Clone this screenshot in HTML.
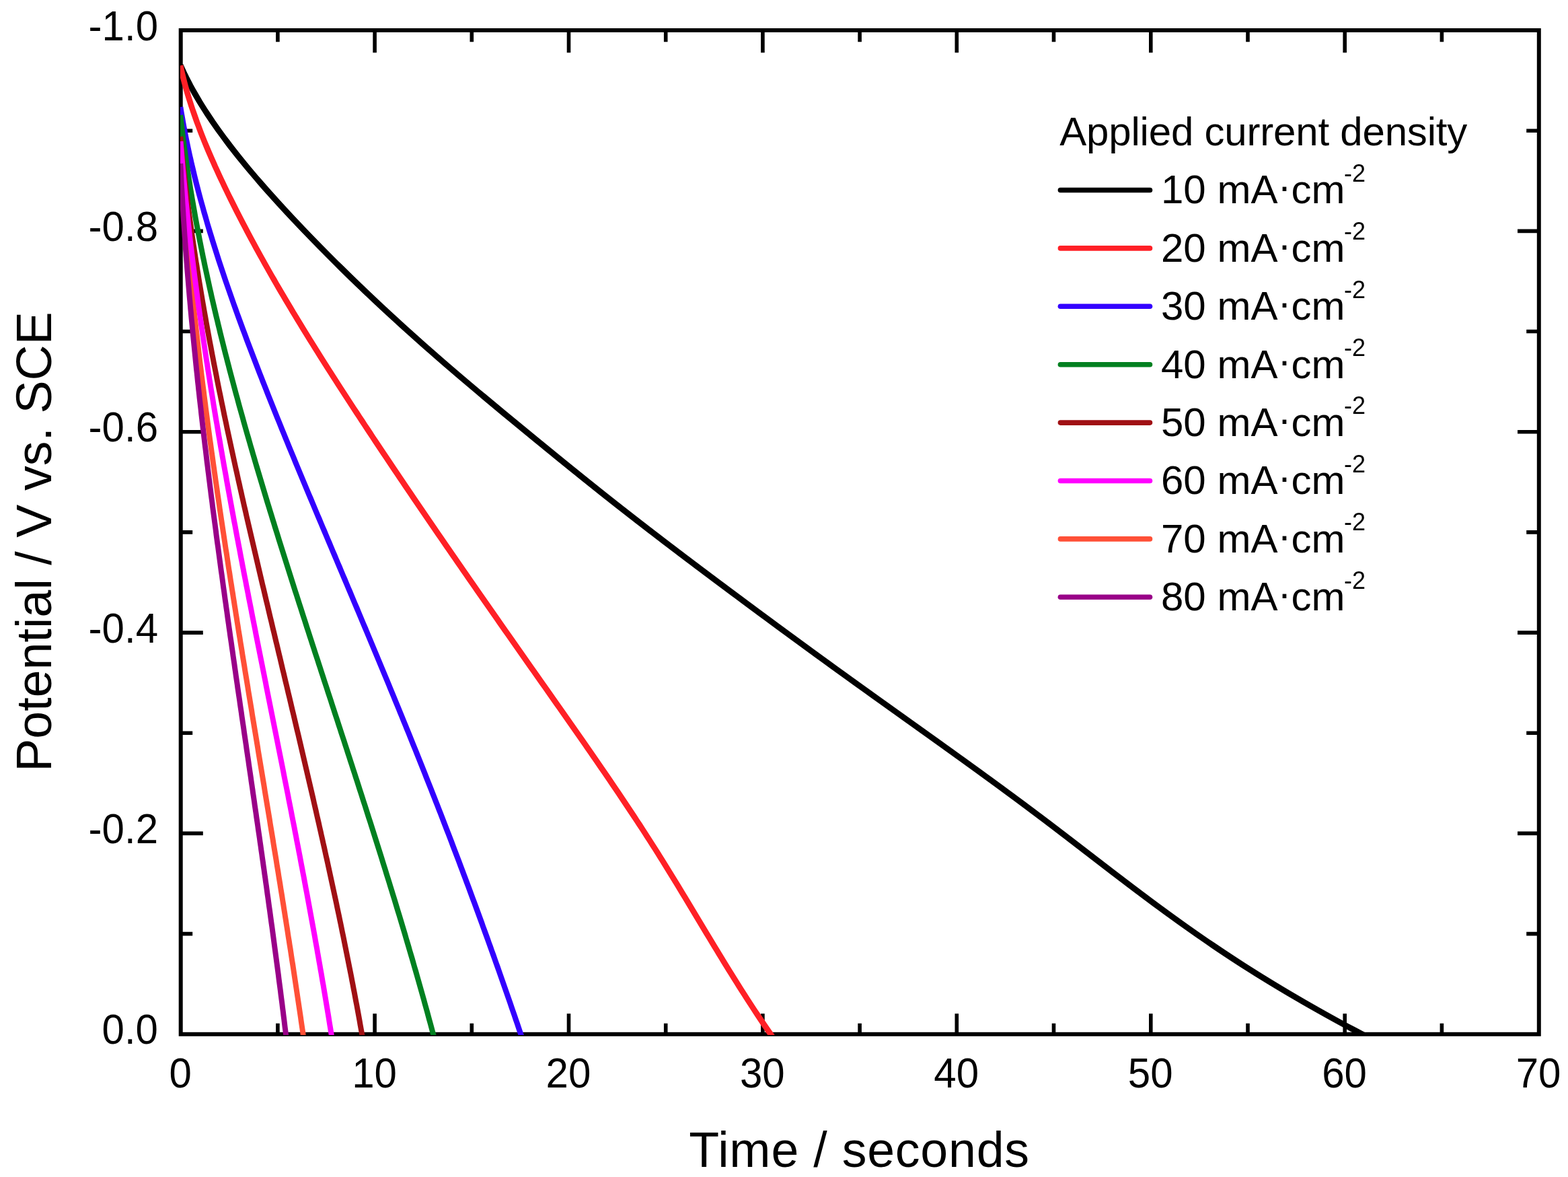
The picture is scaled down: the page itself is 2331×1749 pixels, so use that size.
<!DOCTYPE html>
<html lang="en">
<head>
<meta charset="utf-8">
<title>Galvanostatic discharge curves</title>
<style>
html,body{margin:0;padding:0;background:#ffffff;}
body{width:2331px;height:1749px;overflow:hidden;}
svg{display:block;filter:blur(0.7px);}
text{font-family:"Liberation Sans", sans-serif;fill:#000;}
.tk{font-size:60px;}
.tt{font-size:73.5px;}
.sup{font-size:36px;}
</style>
</head>
<body>
<svg width="2331" height="1749" viewBox="0 0 2331 1749">
<rect x="0" y="0" width="2331" height="1749" fill="#ffffff"/>
<defs><clipPath id="plot"><rect x="268.0" y="45.0" width="2019.8" height="1493.0"/></clipPath></defs>
<path d="M412.9 1536.8V1520.8M412.9 45.0V62.3M557.1 1536.8V1506.3M557.1 45.0V78.3M701.3 1536.8V1520.8M701.3 45.0V62.3M845.5 1536.8V1506.3M845.5 45.0V78.3M989.7 1536.8V1520.8M989.7 45.0V62.3M1133.9 1536.8V1506.3M1133.9 45.0V78.3M1278.1 1536.8V1520.8M1278.1 45.0V62.3M1422.3 1536.8V1506.3M1422.3 45.0V78.3M1566.5 1536.8V1520.8M1566.5 45.0V62.3M1710.8 1536.8V1506.3M1710.8 45.0V78.3M1855.0 1536.8V1520.8M1855.0 45.0V62.3M1999.2 1536.8V1506.3M1999.2 45.0V78.3M2143.4 1536.8V1520.8M2143.4 45.0V62.3M268.7 1387.6H286.2M2287.8 1387.6H2269.2M268.7 1238.4H301.8M2287.8 1238.4H2256.0M268.7 1089.3H286.2M2287.8 1089.3H2269.2M268.7 940.1H301.8M2287.8 940.1H2256.0M268.7 790.9H286.2M2287.8 790.9H2269.2M268.7 641.7H301.8M2287.8 641.7H2256.0M268.7 492.5H286.2M2287.8 492.5H2269.2M268.7 343.4H301.8M2287.8 343.4H2256.0M268.7 194.2H286.2M2287.8 194.2H2269.2" stroke="#000" stroke-width="5.6" fill="none"/>
<rect x="268.7" y="45.0" width="2019.1" height="1491.8" fill="none" stroke="#000" stroke-width="6.0"/>
<g clip-path="url(#plot)" fill="none" stroke-linejoin="round">
<path d="M268.3 97.0 L271.0 103.0 L273.8 109.0 L276.7 115.0 L279.8 121.0 L282.9 127.0 L286.2 133.0 L289.6 139.0 L293.1 145.0 L296.6 151.0 L300.3 157.0 L304.1 163.0 L308.0 169.0 L312.0 175.0 L316.0 181.0 L320.2 187.0 L324.4 193.0 L328.8 199.0 L333.2 205.0 L337.7 211.0 L342.2 217.0 L346.9 223.0 L351.6 229.0 L356.4 235.0 L361.3 241.0 L366.2 247.0 L371.2 253.0 L376.3 259.0 L381.4 265.0 L386.6 271.0 L391.8 277.0 L397.1 283.0 L402.5 289.0 L407.9 295.0 L413.3 301.0 L418.8 307.0 L424.3 313.0 L429.9 319.0 L435.5 325.0 L441.2 331.0 L446.9 337.0 L452.6 343.0 L458.4 349.0 L464.2 355.0 L470.1 361.0 L475.9 367.0 L481.9 373.0 L487.8 379.0 L493.8 385.0 L499.8 391.0 L505.9 397.0 L512.0 403.0 L518.1 409.0 L524.3 415.0 L530.5 421.0 L536.8 427.0 L543.0 433.0 L549.4 439.0 L555.7 445.0 L562.1 451.0 L568.5 457.0 L575.0 463.0 L581.5 469.0 L588.1 475.0 L594.6 481.0 L601.2 487.0 L607.9 493.0 L614.6 499.0 L621.3 505.0 L628.0 511.0 L634.8 517.0 L641.7 523.0 L648.5 529.0 L655.4 535.0 L662.3 541.0 L669.3 547.0 L676.3 553.0 L683.3 559.0 L690.4 565.0 L697.5 571.0 L704.6 577.0 L711.7 583.0 L718.9 589.0 L726.1 595.0 L733.3 601.0 L740.5 607.0 L747.7 613.0 L755.0 619.0 L762.3 625.0 L769.6 631.0 L776.9 637.0 L784.2 643.0 L791.5 649.0 L798.8 655.0 L806.2 661.0 L813.5 667.0 L820.9 673.0 L828.2 679.0 L835.6 685.0 L843.0 691.0 L850.4 697.0 L857.9 703.0 L865.3 709.0 L872.8 715.0 L880.3 721.0 L887.8 727.0 L895.3 733.0 L902.9 739.0 L910.5 745.0 L918.1 751.0 L925.8 757.0 L933.5 763.0 L941.2 769.0 L948.9 775.0 L956.7 781.0 L964.4 787.0 L972.3 793.0 L980.1 799.0 L987.9 805.0 L995.8 811.0 L1003.7 817.0 L1011.6 823.0 L1019.5 829.0 L1027.5 835.0 L1035.4 841.0 L1043.4 847.0 L1051.4 853.0 L1059.4 859.0 L1067.4 865.0 L1075.5 871.0 L1083.5 877.0 L1091.6 883.0 L1099.7 889.0 L1107.7 895.0 L1115.8 901.0 L1123.9 907.0 L1132.0 913.0 L1140.2 919.0 L1148.3 925.0 L1156.4 931.0 L1164.6 937.0 L1172.8 943.0 L1181.0 949.0 L1189.2 955.0 L1197.4 961.0 L1205.6 967.0 L1213.8 973.0 L1222.1 979.0 L1230.4 985.0 L1238.6 991.0 L1246.9 997.0 L1255.3 1003.0 L1263.6 1009.0 L1271.9 1015.0 L1280.3 1021.0 L1288.7 1027.0 L1297.0 1033.0 L1305.4 1039.0 L1313.8 1045.0 L1322.2 1051.0 L1330.6 1057.0 L1339.0 1063.0 L1347.4 1069.0 L1355.8 1075.0 L1364.2 1081.0 L1372.6 1087.0 L1381.0 1093.0 L1389.4 1099.0 L1397.8 1105.0 L1406.1 1111.0 L1414.5 1117.0 L1422.8 1123.0 L1431.2 1129.0 L1439.5 1135.0 L1447.8 1141.0 L1456.1 1147.0 L1464.3 1153.0 L1472.6 1159.0 L1480.8 1165.0 L1489.0 1171.0 L1497.1 1177.0 L1505.3 1183.0 L1513.4 1189.0 L1521.5 1195.0 L1529.5 1201.0 L1537.5 1207.0 L1545.5 1213.0 L1553.5 1219.0 L1561.4 1225.0 L1569.3 1231.0 L1577.1 1237.0 L1585.0 1243.0 L1592.8 1249.0 L1600.6 1255.0 L1608.4 1261.0 L1616.2 1267.0 L1624.0 1273.0 L1631.8 1279.0 L1639.6 1285.0 L1647.4 1291.0 L1655.2 1297.0 L1663.1 1303.0 L1671.0 1309.0 L1678.9 1315.0 L1686.8 1321.0 L1694.8 1327.0 L1702.8 1333.0 L1710.8 1339.0 L1718.9 1345.0 L1727.1 1351.0 L1735.3 1357.0 L1743.6 1363.0 L1751.9 1369.0 L1760.3 1375.0 L1768.8 1381.0 L1777.3 1387.0 L1786.0 1393.0 L1794.7 1399.0 L1803.5 1405.0 L1812.4 1411.0 L1821.4 1417.0 L1830.5 1423.0 L1839.7 1429.0 L1849.0 1435.0 L1858.5 1441.0 L1868.0 1447.0 L1877.7 1453.0 L1887.5 1459.0 L1897.4 1465.0 L1907.4 1471.0 L1917.5 1477.0 L1927.8 1483.0 L1938.1 1489.0 L1948.6 1495.0 L1959.2 1501.0 L1969.9 1507.0 L1980.7 1513.0 L1991.6 1519.0 L2002.7 1525.0 L2013.9 1531.0 L2025.1 1537.0 L2051.3 1551.0" stroke="#000000" stroke-width="8.8"/>
<path d="M268.2 97.5 L269.5 103.5 L270.9 109.5 L272.4 115.5 L273.9 121.5 L275.5 127.5 L277.2 133.5 L278.9 139.5 L280.7 145.5 L282.6 151.5 L284.5 157.5 L286.5 163.5 L288.6 169.5 L290.7 175.5 L292.8 181.5 L295.1 187.5 L297.3 193.5 L299.6 199.5 L302.0 205.5 L304.4 211.5 L306.9 217.5 L309.4 223.5 L312.0 229.5 L314.6 235.5 L317.3 241.5 L319.9 247.5 L322.7 253.5 L325.4 259.5 L328.2 265.5 L331.1 271.5 L333.9 277.5 L336.8 283.5 L339.7 289.5 L342.7 295.5 L345.7 301.5 L348.7 307.5 L351.7 313.5 L354.8 319.5 L357.9 325.5 L361.0 331.5 L364.2 337.5 L367.3 343.5 L370.5 349.5 L373.7 355.5 L377.0 361.5 L380.2 367.5 L383.5 373.5 L386.8 379.5 L390.2 385.5 L393.5 391.5 L396.9 397.5 L400.3 403.5 L403.7 409.5 L407.2 415.5 L410.6 421.5 L414.1 427.5 L417.6 433.5 L421.2 439.5 L424.7 445.5 L428.3 451.5 L431.9 457.5 L435.4 463.5 L439.1 469.5 L442.7 475.5 L446.4 481.5 L450.0 487.5 L453.7 493.5 L457.4 499.5 L461.1 505.5 L464.9 511.5 L468.6 517.5 L472.4 523.5 L476.1 529.5 L479.9 535.5 L483.7 541.5 L487.5 547.5 L491.4 553.5 L495.2 559.5 L499.1 565.5 L502.9 571.5 L506.8 577.5 L510.7 583.5 L514.6 589.5 L518.5 595.5 L522.4 601.5 L526.3 607.5 L530.3 613.5 L534.2 619.5 L538.2 625.5 L542.1 631.5 L546.1 637.5 L550.1 643.5 L554.0 649.5 L558.0 655.5 L562.0 661.5 L566.0 667.5 L570.0 673.5 L574.1 679.5 L578.1 685.5 L582.1 691.5 L586.1 697.5 L590.2 703.5 L594.2 709.5 L598.3 715.5 L602.3 721.5 L606.4 727.5 L610.5 733.5 L614.5 739.5 L618.6 745.5 L622.7 751.5 L626.8 757.5 L630.9 763.5 L635.0 769.5 L639.1 775.5 L643.2 781.5 L647.3 787.5 L651.4 793.5 L655.6 799.5 L659.7 805.5 L663.8 811.5 L668.0 817.5 L672.1 823.5 L676.3 829.5 L680.4 835.5 L684.6 841.5 L688.7 847.5 L692.9 853.5 L697.0 859.5 L701.2 865.5 L705.4 871.5 L709.5 877.5 L713.7 883.5 L717.9 889.5 L722.1 895.5 L726.3 901.5 L730.5 907.5 L734.7 913.5 L738.9 919.5 L743.0 925.5 L747.2 931.5 L751.4 937.5 L755.7 943.5 L759.9 949.5 L764.1 955.5 L768.3 961.5 L772.5 967.5 L776.7 973.5 L780.9 979.5 L785.1 985.5 L789.3 991.5 L793.6 997.5 L797.8 1003.5 L802.0 1009.5 L806.2 1015.5 L810.5 1021.5 L814.7 1027.5 L818.9 1033.5 L823.1 1039.5 L827.3 1045.5 L831.6 1051.5 L835.8 1057.5 L840.0 1063.5 L844.2 1069.5 L848.4 1075.5 L852.6 1081.5 L856.8 1087.5 L861.0 1093.5 L865.2 1099.5 L869.4 1105.5 L873.5 1111.5 L877.7 1117.5 L881.8 1123.5 L886.0 1129.5 L890.1 1135.5 L894.2 1141.5 L898.4 1147.5 L902.5 1153.5 L906.6 1159.5 L910.6 1165.5 L914.7 1171.5 L918.8 1177.5 L922.8 1183.5 L926.8 1189.5 L930.8 1195.5 L934.8 1201.5 L938.8 1207.5 L942.8 1213.5 L946.7 1219.5 L950.7 1225.5 L954.6 1231.5 L958.5 1237.5 L962.3 1243.5 L966.2 1249.5 L970.0 1255.5 L973.9 1261.5 L977.7 1267.5 L981.4 1273.5 L985.2 1279.5 L988.9 1285.5 L992.6 1291.5 L996.3 1297.5 L1000.0 1303.5 L1003.7 1309.5 L1007.4 1315.5 L1011.0 1321.5 L1014.6 1327.5 L1018.3 1333.5 L1021.9 1339.5 L1025.5 1345.5 L1029.1 1351.5 L1032.7 1357.5 L1036.3 1363.5 L1039.9 1369.5 L1043.5 1375.5 L1047.1 1381.5 L1050.7 1387.5 L1054.4 1393.5 L1058.0 1399.5 L1061.6 1405.5 L1065.3 1411.5 L1068.9 1417.5 L1072.6 1423.5 L1076.2 1429.5 L1079.9 1435.5 L1083.6 1441.5 L1087.4 1447.5 L1091.1 1453.5 L1094.9 1459.5 L1098.6 1465.5 L1102.4 1471.5 L1106.3 1477.5 L1110.1 1483.5 L1114.0 1489.5 L1117.9 1495.5 L1121.8 1501.5 L1125.8 1507.5 L1129.8 1513.5 L1133.8 1519.5 L1137.9 1525.5 L1142.0 1531.5 L1145.8 1537.0 L1155.4 1551.0" stroke="#FF2026" stroke-width="8.6"/>
<path d="M268.3 159.0 L269.2 165.0 L270.2 171.0 L271.3 177.0 L272.3 183.0 L273.4 189.0 L274.6 195.0 L275.7 201.0 L276.9 207.0 L278.2 213.0 L279.4 219.0 L280.7 225.0 L282.0 231.0 L283.4 237.0 L284.7 243.0 L286.2 249.0 L287.6 255.0 L289.0 261.0 L290.5 267.0 L292.0 273.0 L293.6 279.0 L295.1 285.0 L296.7 291.0 L298.3 297.0 L300.0 303.0 L301.7 309.0 L303.3 315.0 L305.1 321.0 L306.8 327.0 L308.5 333.0 L310.3 339.0 L312.1 345.0 L314.0 351.0 L315.8 357.0 L317.7 363.0 L319.6 369.0 L321.5 375.0 L323.4 381.0 L325.3 387.0 L327.3 393.0 L329.3 399.0 L331.3 405.0 L333.3 411.0 L335.3 417.0 L337.4 423.0 L339.5 429.0 L341.6 435.0 L343.7 441.0 L345.8 447.0 L347.9 453.0 L350.1 459.0 L352.2 465.0 L354.4 471.0 L356.6 477.0 L358.8 483.0 L361.0 489.0 L363.3 495.0 L365.5 501.0 L367.7 507.0 L370.0 513.0 L372.3 519.0 L374.6 525.0 L376.9 531.0 L379.2 537.0 L381.5 543.0 L383.8 549.0 L386.1 555.0 L388.5 561.0 L390.8 567.0 L393.2 573.0 L395.6 579.0 L397.9 585.0 L400.3 591.0 L402.7 597.0 L405.1 603.0 L407.5 609.0 L409.9 615.0 L412.3 621.0 L414.8 627.0 L417.2 633.0 L419.6 639.0 L422.1 645.0 L424.5 651.0 L427.0 657.0 L429.4 663.0 L431.9 669.0 L434.4 675.0 L436.9 681.0 L439.3 687.0 L441.8 693.0 L444.3 699.0 L446.8 705.0 L449.3 711.0 L451.8 717.0 L454.3 723.0 L456.8 729.0 L459.3 735.0 L461.9 741.0 L464.4 747.0 L466.9 753.0 L469.4 759.0 L471.9 765.0 L474.5 771.0 L477.0 777.0 L479.5 783.0 L482.1 789.0 L484.6 795.0 L487.1 801.0 L489.7 807.0 L492.2 813.0 L494.7 819.0 L497.3 825.0 L499.8 831.0 L502.3 837.0 L504.9 843.0 L507.4 849.0 L509.9 855.0 L512.5 861.0 L515.0 867.0 L517.5 873.0 L520.1 879.0 L522.6 885.0 L525.1 891.0 L527.6 897.0 L530.2 903.0 L532.7 909.0 L535.2 915.0 L537.7 921.0 L540.2 927.0 L542.8 933.0 L545.3 939.0 L547.8 945.0 L550.3 951.0 L552.8 957.0 L555.3 963.0 L557.8 969.0 L560.3 975.0 L562.8 981.0 L565.3 987.0 L567.8 993.0 L570.3 999.0 L572.8 1005.0 L575.3 1011.0 L577.8 1017.0 L580.2 1023.0 L582.7 1029.0 L585.2 1035.0 L587.6 1041.0 L590.1 1047.0 L592.6 1053.0 L595.0 1059.0 L597.5 1065.0 L599.9 1071.0 L602.4 1077.0 L604.8 1083.0 L607.3 1089.0 L609.7 1095.0 L612.1 1101.0 L614.5 1107.0 L617.0 1113.0 L619.4 1119.0 L621.8 1125.0 L624.2 1131.0 L626.6 1137.0 L629.0 1143.0 L631.4 1149.0 L633.7 1155.0 L636.1 1161.0 L638.5 1167.0 L640.9 1173.0 L643.2 1179.0 L645.6 1185.0 L647.9 1191.0 L650.3 1197.0 L652.6 1203.0 L655.0 1209.0 L657.3 1215.0 L659.6 1221.0 L661.9 1227.0 L664.2 1233.0 L666.6 1239.0 L668.9 1245.0 L671.2 1251.0 L673.4 1257.0 L675.7 1263.0 L678.0 1269.0 L680.3 1275.0 L682.6 1281.0 L684.8 1287.0 L687.1 1293.0 L689.3 1299.0 L691.6 1305.0 L693.8 1311.0 L696.1 1317.0 L698.3 1323.0 L700.5 1329.0 L702.7 1335.0 L705.0 1341.0 L707.2 1347.0 L709.4 1353.0 L711.6 1359.0 L713.8 1365.0 L716.0 1371.0 L718.1 1377.0 L720.3 1383.0 L722.5 1389.0 L724.7 1395.0 L726.8 1401.0 L729.0 1407.0 L731.1 1413.0 L733.3 1419.0 L735.4 1425.0 L737.5 1431.0 L739.7 1437.0 L741.8 1443.0 L743.9 1449.0 L746.0 1455.0 L748.1 1461.0 L750.2 1467.0 L752.3 1473.0 L754.4 1479.0 L756.5 1485.0 L758.6 1491.0 L760.6 1497.0 L762.7 1503.0 L764.8 1509.0 L766.8 1515.0 L768.9 1521.0 L770.9 1527.0 L772.9 1533.0 L774.3 1537.0 L779.0 1551.0" stroke="#3300FF" stroke-width="8.2"/>
<path d="M268.2 171.0 L268.8 177.0 L269.5 183.0 L270.2 189.0 L270.9 195.0 L271.7 201.0 L272.4 207.0 L273.2 213.0 L274.0 219.0 L274.8 225.0 L275.7 231.0 L276.5 237.0 L277.4 243.0 L278.3 249.0 L279.2 255.0 L280.1 261.0 L281.0 267.0 L282.0 273.0 L282.9 279.0 L283.9 285.0 L284.9 291.0 L285.9 297.0 L287.0 303.0 L288.0 309.0 L289.1 315.0 L290.1 321.0 L291.2 327.0 L292.3 333.0 L293.5 339.0 L294.6 345.0 L295.8 351.0 L296.9 357.0 L298.1 363.0 L299.3 369.0 L300.5 375.0 L301.7 381.0 L303.0 387.0 L304.2 393.0 L305.5 399.0 L306.8 405.0 L308.1 411.0 L309.4 417.0 L310.7 423.0 L312.0 429.0 L313.4 435.0 L314.7 441.0 L316.1 447.0 L317.5 453.0 L318.9 459.0 L320.3 465.0 L321.7 471.0 L323.2 477.0 L324.6 483.0 L326.1 489.0 L327.5 495.0 L329.0 501.0 L330.5 507.0 L332.0 513.0 L333.5 519.0 L335.0 525.0 L336.6 531.0 L338.1 537.0 L339.7 543.0 L341.2 549.0 L342.8 555.0 L344.4 561.0 L346.0 567.0 L347.6 573.0 L349.2 579.0 L350.8 585.0 L352.5 591.0 L354.1 597.0 L355.7 603.0 L357.4 609.0 L359.1 615.0 L360.8 621.0 L362.4 627.0 L364.1 633.0 L365.8 639.0 L367.5 645.0 L369.3 651.0 L371.0 657.0 L372.7 663.0 L374.5 669.0 L376.2 675.0 L378.0 681.0 L379.7 687.0 L381.5 693.0 L383.3 699.0 L385.1 705.0 L386.9 711.0 L388.7 717.0 L390.5 723.0 L392.3 729.0 L394.1 735.0 L395.9 741.0 L397.7 747.0 L399.6 753.0 L401.4 759.0 L403.3 765.0 L405.1 771.0 L407.0 777.0 L408.8 783.0 L410.7 789.0 L412.6 795.0 L414.4 801.0 L416.3 807.0 L418.2 813.0 L420.1 819.0 L422.0 825.0 L423.9 831.0 L425.8 837.0 L427.7 843.0 L429.6 849.0 L431.5 855.0 L433.4 861.0 L435.3 867.0 L437.2 873.0 L439.1 879.0 L441.1 885.0 L443.0 891.0 L444.9 897.0 L446.9 903.0 L448.8 909.0 L450.7 915.0 L452.7 921.0 L454.6 927.0 L456.5 933.0 L458.5 939.0 L460.4 945.0 L462.4 951.0 L464.3 957.0 L466.3 963.0 L468.2 969.0 L470.2 975.0 L472.2 981.0 L474.1 987.0 L476.1 993.0 L478.0 999.0 L480.0 1005.0 L481.9 1011.0 L483.9 1017.0 L485.9 1023.0 L487.8 1029.0 L489.8 1035.0 L491.8 1041.0 L493.7 1047.0 L495.7 1053.0 L497.6 1059.0 L499.6 1065.0 L501.6 1071.0 L503.5 1077.0 L505.5 1083.0 L507.4 1089.0 L509.4 1095.0 L511.4 1101.0 L513.3 1107.0 L515.3 1113.0 L517.2 1119.0 L519.2 1125.0 L521.1 1131.0 L523.1 1137.0 L525.0 1143.0 L527.0 1149.0 L528.9 1155.0 L530.9 1161.0 L532.8 1167.0 L534.7 1173.0 L536.7 1179.0 L538.6 1185.0 L540.5 1191.0 L542.5 1197.0 L544.4 1203.0 L546.3 1209.0 L548.2 1215.0 L550.2 1221.0 L552.1 1227.0 L554.0 1233.0 L555.9 1239.0 L557.8 1245.0 L559.7 1251.0 L561.6 1257.0 L563.5 1263.0 L565.4 1269.0 L567.3 1275.0 L569.1 1281.0 L571.0 1287.0 L572.9 1293.0 L574.7 1299.0 L576.6 1305.0 L578.5 1311.0 L580.3 1317.0 L582.2 1323.0 L584.0 1329.0 L585.9 1335.0 L587.7 1341.0 L589.5 1347.0 L591.3 1353.0 L593.2 1359.0 L595.0 1365.0 L596.8 1371.0 L598.6 1377.0 L600.4 1383.0 L602.2 1389.0 L603.9 1395.0 L605.7 1401.0 L607.5 1407.0 L609.2 1413.0 L611.0 1419.0 L612.8 1425.0 L614.5 1431.0 L616.2 1437.0 L618.0 1443.0 L619.7 1449.0 L621.4 1455.0 L623.1 1461.0 L624.8 1467.0 L626.5 1473.0 L628.2 1479.0 L629.9 1485.0 L631.5 1491.0 L633.2 1497.0 L634.9 1503.0 L636.5 1509.0 L638.1 1515.0 L639.8 1521.0 L641.4 1527.0 L643.0 1533.0 L644.1 1537.0 L647.8 1551.0" stroke="#008020" stroke-width="8.1"/>
<path d="M268.2 203.0 L268.8 209.0 L269.3 215.0 L269.9 221.0 L270.5 227.0 L271.1 233.0 L271.8 239.0 L272.4 245.0 L273.1 251.0 L273.7 257.0 L274.4 263.0 L275.1 269.0 L275.8 275.0 L276.5 281.0 L277.3 287.0 L278.0 293.0 L278.8 299.0 L279.5 305.0 L280.3 311.0 L281.1 317.0 L281.9 323.0 L282.7 329.0 L283.6 335.0 L284.4 341.0 L285.2 347.0 L286.1 353.0 L287.0 359.0 L287.9 365.0 L288.8 371.0 L289.7 377.0 L290.6 383.0 L291.5 389.0 L292.5 395.0 L293.4 401.0 L294.4 407.0 L295.3 413.0 L296.3 419.0 L297.3 425.0 L298.3 431.0 L299.3 437.0 L300.3 443.0 L301.3 449.0 L302.4 455.0 L303.4 461.0 L304.5 467.0 L305.6 473.0 L306.6 479.0 L307.7 485.0 L308.8 491.0 L309.9 497.0 L311.0 503.0 L312.1 509.0 L313.3 515.0 L314.4 521.0 L315.5 527.0 L316.7 533.0 L317.8 539.0 L319.0 545.0 L320.2 551.0 L321.4 557.0 L322.5 563.0 L323.7 569.0 L324.9 575.0 L326.1 581.0 L327.4 587.0 L328.6 593.0 L329.8 599.0 L331.1 605.0 L332.3 611.0 L333.5 617.0 L334.8 623.0 L336.1 629.0 L337.3 635.0 L338.6 641.0 L339.9 647.0 L341.2 653.0 L342.5 659.0 L343.8 665.0 L345.1 671.0 L346.4 677.0 L347.7 683.0 L349.0 689.0 L350.3 695.0 L351.7 701.0 L353.0 707.0 L354.3 713.0 L355.7 719.0 L357.0 725.0 L358.4 731.0 L359.7 737.0 L361.1 743.0 L362.4 749.0 L363.8 755.0 L365.2 761.0 L366.5 767.0 L367.9 773.0 L369.3 779.0 L370.7 785.0 L372.1 791.0 L373.5 797.0 L374.9 803.0 L376.3 809.0 L377.7 815.0 L379.1 821.0 L380.5 827.0 L381.9 833.0 L383.3 839.0 L384.7 845.0 L386.1 851.0 L387.5 857.0 L388.9 863.0 L390.3 869.0 L391.8 875.0 L393.2 881.0 L394.6 887.0 L396.0 893.0 L397.5 899.0 L398.9 905.0 L400.3 911.0 L401.7 917.0 L403.2 923.0 L404.6 929.0 L406.0 935.0 L407.5 941.0 L408.9 947.0 L410.3 953.0 L411.8 959.0 L413.2 965.0 L414.6 971.0 L416.1 977.0 L417.5 983.0 L418.9 989.0 L420.3 995.0 L421.8 1001.0 L423.2 1007.0 L424.6 1013.0 L426.1 1019.0 L427.5 1025.0 L428.9 1031.0 L430.4 1037.0 L431.8 1043.0 L433.2 1049.0 L434.6 1055.0 L436.1 1061.0 L437.5 1067.0 L438.9 1073.0 L440.3 1079.0 L441.7 1085.0 L443.2 1091.0 L444.6 1097.0 L446.0 1103.0 L447.4 1109.0 L448.8 1115.0 L450.2 1121.0 L451.6 1127.0 L453.0 1133.0 L454.4 1139.0 L455.8 1145.0 L457.2 1151.0 L458.6 1157.0 L460.0 1163.0 L461.4 1169.0 L462.8 1175.0 L464.2 1181.0 L465.6 1187.0 L466.9 1193.0 L468.3 1199.0 L469.7 1205.0 L471.0 1211.0 L472.4 1217.0 L473.8 1223.0 L475.1 1229.0 L476.5 1235.0 L477.8 1241.0 L479.2 1247.0 L480.5 1253.0 L481.9 1259.0 L483.2 1265.0 L484.5 1271.0 L485.9 1277.0 L487.2 1283.0 L488.5 1289.0 L489.8 1295.0 L491.1 1301.0 L492.4 1307.0 L493.7 1313.0 L495.0 1319.0 L496.3 1325.0 L497.6 1331.0 L498.9 1337.0 L500.2 1343.0 L501.4 1349.0 L502.7 1355.0 L504.0 1361.0 L505.2 1367.0 L506.5 1373.0 L507.7 1379.0 L508.9 1385.0 L510.2 1391.0 L511.4 1397.0 L512.6 1403.0 L513.8 1409.0 L515.0 1415.0 L516.2 1421.0 L517.4 1427.0 L518.6 1433.0 L519.8 1439.0 L521.0 1445.0 L522.2 1451.0 L523.3 1457.0 L524.5 1463.0 L525.6 1469.0 L526.8 1475.0 L527.9 1481.0 L529.0 1487.0 L530.2 1493.0 L531.3 1499.0 L532.4 1505.0 L533.5 1511.0 L534.6 1517.0 L535.6 1523.0 L536.7 1529.0 L537.8 1535.0 L538.1 1537.0 L540.6 1551.0" stroke="#A01014" stroke-width="8.0"/>
<path d="M268.4 228.0 L268.8 234.0 L269.1 240.0 L269.5 246.0 L269.9 252.0 L270.3 258.0 L270.8 264.0 L271.2 270.0 L271.6 276.0 L272.0 282.0 L272.5 288.0 L273.0 294.0 L273.4 300.0 L273.9 306.0 L274.4 312.0 L274.8 318.0 L275.3 324.0 L275.8 330.0 L276.3 336.0 L276.9 342.0 L277.4 348.0 L277.9 354.0 L278.4 360.0 L279.0 366.0 L279.5 372.0 L280.1 378.0 L280.7 384.0 L281.2 390.0 L281.8 396.0 L282.4 402.0 L283.0 408.0 L283.6 414.0 L284.2 420.0 L284.8 426.0 L285.4 432.0 L286.0 438.0 L286.7 444.0 L287.3 450.0 L287.9 456.0 L288.6 462.0 L289.2 468.0 L289.9 474.0 L290.6 480.0 L291.2 486.0 L291.9 492.0 L292.6 498.0 L293.3 504.0 L294.0 510.0 L294.7 516.0 L295.4 522.0 L296.1 528.0 L296.8 534.0 L297.5 540.0 L298.3 546.0 L299.0 552.0 L299.7 558.0 L300.5 564.0 L301.2 570.0 L302.0 576.0 L302.8 582.0 L303.5 588.0 L304.3 594.0 L305.1 600.0 L305.8 606.0 L306.6 612.0 L307.4 618.0 L308.2 624.0 L309.0 630.0 L309.8 636.0 L310.6 642.0 L311.4 648.0 L312.2 654.0 L313.1 660.0 L313.9 666.0 L314.7 672.0 L315.6 678.0 L316.4 684.0 L317.2 690.0 L318.1 696.0 L318.9 702.0 L319.8 708.0 L320.6 714.0 L321.5 720.0 L322.4 726.0 L323.2 732.0 L324.1 738.0 L325.0 744.0 L325.9 750.0 L326.7 756.0 L327.6 762.0 L328.5 768.0 L329.4 774.0 L330.3 780.0 L331.2 786.0 L332.1 792.0 L333.0 798.0 L333.9 804.0 L334.8 810.0 L335.7 816.0 L336.7 822.0 L337.6 828.0 L338.5 834.0 L339.4 840.0 L340.3 846.0 L341.3 852.0 L342.2 858.0 L343.1 864.0 L344.1 870.0 L345.0 876.0 L346.0 882.0 L346.9 888.0 L347.9 894.0 L348.8 900.0 L349.8 906.0 L350.7 912.0 L351.7 918.0 L352.6 924.0 L353.6 930.0 L354.5 936.0 L355.5 942.0 L356.5 948.0 L357.4 954.0 L358.4 960.0 L359.4 966.0 L360.3 972.0 L361.3 978.0 L362.3 984.0 L363.3 990.0 L364.2 996.0 L365.2 1002.0 L366.2 1008.0 L367.2 1014.0 L368.2 1020.0 L369.1 1026.0 L370.1 1032.0 L371.1 1038.0 L372.1 1044.0 L373.1 1050.0 L374.1 1056.0 L375.0 1062.0 L376.0 1068.0 L377.0 1074.0 L378.0 1080.0 L379.0 1086.0 L380.0 1092.0 L381.0 1098.0 L382.0 1104.0 L383.0 1110.0 L383.9 1116.0 L384.9 1122.0 L385.9 1128.0 L386.9 1134.0 L387.9 1140.0 L388.9 1146.0 L389.9 1152.0 L390.9 1158.0 L391.9 1164.0 L392.9 1170.0 L393.8 1176.0 L394.8 1182.0 L395.8 1188.0 L396.8 1194.0 L397.8 1200.0 L398.8 1206.0 L399.8 1212.0 L400.8 1218.0 L401.7 1224.0 L402.7 1230.0 L403.7 1236.0 L404.7 1242.0 L405.7 1248.0 L406.6 1254.0 L407.6 1260.0 L408.6 1266.0 L409.6 1272.0 L410.6 1278.0 L411.5 1284.0 L412.5 1290.0 L413.5 1296.0 L414.4 1302.0 L415.4 1308.0 L416.4 1314.0 L417.3 1320.0 L418.3 1326.0 L419.3 1332.0 L420.2 1338.0 L421.2 1344.0 L422.1 1350.0 L423.1 1356.0 L424.0 1362.0 L425.0 1368.0 L425.9 1374.0 L426.9 1380.0 L427.8 1386.0 L428.7 1392.0 L429.7 1398.0 L430.6 1404.0 L431.6 1410.0 L432.5 1416.0 L433.4 1422.0 L434.3 1428.0 L435.3 1434.0 L436.2 1440.0 L437.1 1446.0 L438.0 1452.0 L438.9 1458.0 L439.8 1464.0 L440.7 1470.0 L441.6 1476.0 L442.5 1482.0 L443.4 1488.0 L444.3 1494.0 L445.2 1500.0 L446.1 1506.0 L447.0 1512.0 L447.8 1518.0 L448.7 1524.0 L449.6 1530.0 L450.5 1536.0 L450.6 1537.0 L452.6 1551.0" stroke="#FF5037" stroke-width="8.0"/>
<path d="M268.4 210.0 L268.9 216.0 L269.4 222.0 L269.9 228.0 L270.4 234.0 L270.9 240.0 L271.4 246.0 L271.9 252.0 L272.5 258.0 L273.0 264.0 L273.6 270.0 L274.2 276.0 L274.7 282.0 L275.3 288.0 L275.9 294.0 L276.5 300.0 L277.2 306.0 L277.8 312.0 L278.4 318.0 L279.1 324.0 L279.7 330.0 L280.4 336.0 L281.1 342.0 L281.7 348.0 L282.4 354.0 L283.1 360.0 L283.8 366.0 L284.6 372.0 L285.3 378.0 L286.0 384.0 L286.8 390.0 L287.5 396.0 L288.3 402.0 L289.0 408.0 L289.8 414.0 L290.6 420.0 L291.4 426.0 L292.2 432.0 L293.0 438.0 L293.8 444.0 L294.6 450.0 L295.4 456.0 L296.3 462.0 L297.1 468.0 L298.0 474.0 L298.8 480.0 L299.7 486.0 L300.6 492.0 L301.4 498.0 L302.3 504.0 L303.2 510.0 L304.1 516.0 L305.0 522.0 L305.9 528.0 L306.8 534.0 L307.8 540.0 L308.7 546.0 L309.6 552.0 L310.6 558.0 L311.5 564.0 L312.5 570.0 L313.4 576.0 L314.4 582.0 L315.4 588.0 L316.4 594.0 L317.3 600.0 L318.3 606.0 L319.3 612.0 L320.3 618.0 L321.3 624.0 L322.4 630.0 L323.4 636.0 L324.4 642.0 L325.4 648.0 L326.5 654.0 L327.5 660.0 L328.5 666.0 L329.6 672.0 L330.6 678.0 L331.7 684.0 L332.7 690.0 L333.8 696.0 L334.9 702.0 L336.0 708.0 L337.0 714.0 L338.1 720.0 L339.2 726.0 L340.3 732.0 L341.4 738.0 L342.5 744.0 L343.6 750.0 L344.7 756.0 L345.8 762.0 L346.9 768.0 L348.0 774.0 L349.2 780.0 L350.3 786.0 L351.4 792.0 L352.5 798.0 L353.7 804.0 L354.8 810.0 L356.0 816.0 L357.1 822.0 L358.2 828.0 L359.4 834.0 L360.5 840.0 L361.7 846.0 L362.8 852.0 L364.0 858.0 L365.2 864.0 L366.3 870.0 L367.5 876.0 L368.7 882.0 L369.8 888.0 L371.0 894.0 L372.2 900.0 L373.4 906.0 L374.5 912.0 L375.7 918.0 L376.9 924.0 L378.1 930.0 L379.3 936.0 L380.4 942.0 L381.6 948.0 L382.8 954.0 L384.0 960.0 L385.2 966.0 L386.4 972.0 L387.6 978.0 L388.8 984.0 L390.0 990.0 L391.2 996.0 L392.4 1002.0 L393.6 1008.0 L394.8 1014.0 L395.9 1020.0 L397.1 1026.0 L398.3 1032.0 L399.5 1038.0 L400.7 1044.0 L401.9 1050.0 L403.1 1056.0 L404.3 1062.0 L405.5 1068.0 L406.7 1074.0 L407.9 1080.0 L409.1 1086.0 L410.3 1092.0 L411.5 1098.0 L412.7 1104.0 L413.9 1110.0 L415.1 1116.0 L416.3 1122.0 L417.5 1128.0 L418.7 1134.0 L419.9 1140.0 L421.1 1146.0 L422.2 1152.0 L423.4 1158.0 L424.6 1164.0 L425.8 1170.0 L427.0 1176.0 L428.2 1182.0 L429.3 1188.0 L430.5 1194.0 L431.7 1200.0 L432.9 1206.0 L434.0 1212.0 L435.2 1218.0 L436.4 1224.0 L437.6 1230.0 L438.7 1236.0 L439.9 1242.0 L441.0 1248.0 L442.2 1254.0 L443.4 1260.0 L444.5 1266.0 L445.7 1272.0 L446.8 1278.0 L447.9 1284.0 L449.1 1290.0 L450.2 1296.0 L451.4 1302.0 L452.5 1308.0 L453.6 1314.0 L454.7 1320.0 L455.9 1326.0 L457.0 1332.0 L458.1 1338.0 L459.2 1344.0 L460.3 1350.0 L461.4 1356.0 L462.5 1362.0 L463.6 1368.0 L464.7 1374.0 L465.8 1380.0 L466.9 1386.0 L468.0 1392.0 L469.0 1398.0 L470.1 1404.0 L471.2 1410.0 L472.2 1416.0 L473.3 1422.0 L474.3 1428.0 L475.4 1434.0 L476.4 1440.0 L477.5 1446.0 L478.5 1452.0 L479.5 1458.0 L480.6 1464.0 L481.6 1470.0 L482.6 1476.0 L483.6 1482.0 L484.6 1488.0 L485.6 1494.0 L486.6 1500.0 L487.6 1506.0 L488.6 1512.0 L489.5 1518.0 L490.5 1524.0 L491.5 1530.0 L492.4 1536.0 L492.6 1537.0 L494.8 1551.0" stroke="#FF00FF" stroke-width="8.0"/>
<path d="M268.3 243.0 L268.6 249.0 L268.9 255.0 L269.2 261.0 L269.5 267.0 L269.8 273.0 L270.1 279.0 L270.5 285.0 L270.8 291.0 L271.2 297.0 L271.5 303.0 L271.9 309.0 L272.3 315.0 L272.6 321.0 L273.0 327.0 L273.4 333.0 L273.8 339.0 L274.2 345.0 L274.6 351.0 L275.1 357.0 L275.5 363.0 L275.9 369.0 L276.4 375.0 L276.8 381.0 L277.3 387.0 L277.8 393.0 L278.2 399.0 L278.7 405.0 L279.2 411.0 L279.7 417.0 L280.2 423.0 L280.7 429.0 L281.2 435.0 L281.7 441.0 L282.3 447.0 L282.8 453.0 L283.3 459.0 L283.9 465.0 L284.4 471.0 L285.0 477.0 L285.6 483.0 L286.1 489.0 L286.7 495.0 L287.3 501.0 L287.9 507.0 L288.5 513.0 L289.1 519.0 L289.7 525.0 L290.3 531.0 L290.9 537.0 L291.5 543.0 L292.1 549.0 L292.8 555.0 L293.4 561.0 L294.0 567.0 L294.7 573.0 L295.3 579.0 L296.0 585.0 L296.6 591.0 L297.3 597.0 L298.0 603.0 L298.7 609.0 L299.3 615.0 L300.0 621.0 L300.7 627.0 L301.4 633.0 L302.1 639.0 L302.8 645.0 L303.5 651.0 L304.2 657.0 L304.9 663.0 L305.7 669.0 L306.4 675.0 L307.1 681.0 L307.8 687.0 L308.6 693.0 L309.3 699.0 L310.1 705.0 L310.8 711.0 L311.6 717.0 L312.3 723.0 L313.1 729.0 L313.8 735.0 L314.6 741.0 L315.4 747.0 L316.1 753.0 L316.9 759.0 L317.7 765.0 L318.5 771.0 L319.3 777.0 L320.1 783.0 L320.9 789.0 L321.6 795.0 L322.4 801.0 L323.2 807.0 L324.1 813.0 L324.9 819.0 L325.7 825.0 L326.5 831.0 L327.3 837.0 L328.1 843.0 L328.9 849.0 L329.8 855.0 L330.6 861.0 L331.4 867.0 L332.2 873.0 L333.1 879.0 L333.9 885.0 L334.7 891.0 L335.6 897.0 L336.4 903.0 L337.3 909.0 L338.1 915.0 L338.9 921.0 L339.8 927.0 L340.6 933.0 L341.5 939.0 L342.3 945.0 L343.2 951.0 L344.1 957.0 L344.9 963.0 L345.8 969.0 L346.6 975.0 L347.5 981.0 L348.4 987.0 L349.2 993.0 L350.1 999.0 L350.9 1005.0 L351.8 1011.0 L352.7 1017.0 L353.5 1023.0 L354.4 1029.0 L355.3 1035.0 L356.2 1041.0 L357.0 1047.0 L357.9 1053.0 L358.8 1059.0 L359.6 1065.0 L360.5 1071.0 L361.4 1077.0 L362.3 1083.0 L363.1 1089.0 L364.0 1095.0 L364.9 1101.0 L365.8 1107.0 L366.6 1113.0 L367.5 1119.0 L368.4 1125.0 L369.3 1131.0 L370.1 1137.0 L371.0 1143.0 L371.9 1149.0 L372.8 1155.0 L373.6 1161.0 L374.5 1167.0 L375.4 1173.0 L376.2 1179.0 L377.1 1185.0 L378.0 1191.0 L378.8 1197.0 L379.7 1203.0 L380.6 1209.0 L381.4 1215.0 L382.3 1221.0 L383.2 1227.0 L384.0 1233.0 L384.9 1239.0 L385.8 1245.0 L386.6 1251.0 L387.5 1257.0 L388.3 1263.0 L389.2 1269.0 L390.0 1275.0 L390.9 1281.0 L391.7 1287.0 L392.6 1293.0 L393.4 1299.0 L394.3 1305.0 L395.1 1311.0 L396.0 1317.0 L396.8 1323.0 L397.6 1329.0 L398.5 1335.0 L399.3 1341.0 L400.1 1347.0 L401.0 1353.0 L401.8 1359.0 L402.6 1365.0 L403.4 1371.0 L404.3 1377.0 L405.1 1383.0 L405.9 1389.0 L406.7 1395.0 L407.5 1401.0 L408.3 1407.0 L409.1 1413.0 L409.9 1419.0 L410.7 1425.0 L411.5 1431.0 L412.3 1437.0 L413.1 1443.0 L413.9 1449.0 L414.6 1455.0 L415.4 1461.0 L416.2 1467.0 L417.0 1473.0 L417.7 1479.0 L418.5 1485.0 L419.3 1491.0 L420.0 1497.0 L420.8 1503.0 L421.5 1509.0 L422.3 1515.0 L423.0 1521.0 L423.7 1527.0 L424.5 1533.0 L425.0 1537.0 L426.7 1551.0" stroke="#990088" stroke-width="8.0"/>
</g>
<text class="tk" transform="translate(268.1 1616.3) scale(1 1.04)" text-anchor="middle">0</text>
<text class="tk" transform="translate(556.5 1616.3) scale(1 1.04)" text-anchor="middle">10</text>
<text class="tk" transform="translate(844.9 1616.3) scale(1 1.04)" text-anchor="middle">20</text>
<text class="tk" transform="translate(1133.3 1616.3) scale(1 1.04)" text-anchor="middle">30</text>
<text class="tk" transform="translate(1421.7 1616.3) scale(1 1.04)" text-anchor="middle">40</text>
<text class="tk" transform="translate(1710.2 1616.3) scale(1 1.04)" text-anchor="middle">50</text>
<text class="tk" transform="translate(1998.6 1616.3) scale(1 1.04)" text-anchor="middle">60</text>
<text class="tk" transform="translate(2287.0 1616.3) scale(1 1.04)" text-anchor="middle">70</text>
<text class="tk" transform="translate(235.0 1551.3) scale(1 1.04)" text-anchor="end">0.0</text>
<text class="tk" transform="translate(235.0 1252.9) scale(1 1.04)" text-anchor="end">-0.2</text>
<text class="tk" transform="translate(235.0 954.6) scale(1 1.04)" text-anchor="end">-0.4</text>
<text class="tk" transform="translate(235.0 656.2) scale(1 1.04)" text-anchor="end">-0.6</text>
<text class="tk" transform="translate(235.0 357.9) scale(1 1.04)" text-anchor="end">-0.8</text>
<text class="tk" transform="translate(235.0 59.5) scale(1 1.04)" text-anchor="end">-1.0</text>
<text class="tt" x="1277.6" y="1733.6" text-anchor="middle" style="letter-spacing:0.78px">Time / seconds</text>
<text class="tt" transform="translate(76.0 805.0) rotate(-90)" text-anchor="middle" style="letter-spacing:0.07px">Potential / V vs. SCE</text>
<text class="tk" x="1575.3" y="216" style="letter-spacing:-0.2px">Applied current density</text>
<line x1="1576.4" y1="282.5" x2="1709.5" y2="282.5" stroke="#000000" stroke-width="7.6" stroke-linecap="round"/>
<text class="tk" x="1726" y="302.4">10 mA<tspan dy="-5.2">·</tspan><tspan dy="5.2">cm</tspan><tspan class="sup" dx="-1.5" dy="-32.6">-2</tspan></text>
<line x1="1576.4" y1="368.9" x2="1709.5" y2="368.9" stroke="#FF2026" stroke-width="7.6" stroke-linecap="round"/>
<text class="tk" x="1726" y="388.8">20 mA<tspan dy="-5.2">·</tspan><tspan dy="5.2">cm</tspan><tspan class="sup" dx="-1.5" dy="-32.6">-2</tspan></text>
<line x1="1576.4" y1="455.3" x2="1709.5" y2="455.3" stroke="#3300FF" stroke-width="7.6" stroke-linecap="round"/>
<text class="tk" x="1726" y="475.2">30 mA<tspan dy="-5.2">·</tspan><tspan dy="5.2">cm</tspan><tspan class="sup" dx="-1.5" dy="-32.6">-2</tspan></text>
<line x1="1576.4" y1="541.7" x2="1709.5" y2="541.7" stroke="#008020" stroke-width="7.6" stroke-linecap="round"/>
<text class="tk" x="1726" y="561.6">40 mA<tspan dy="-5.2">·</tspan><tspan dy="5.2">cm</tspan><tspan class="sup" dx="-1.5" dy="-32.6">-2</tspan></text>
<line x1="1576.4" y1="628.1" x2="1709.5" y2="628.1" stroke="#A01014" stroke-width="7.6" stroke-linecap="round"/>
<text class="tk" x="1726" y="648.0">50 mA<tspan dy="-5.2">·</tspan><tspan dy="5.2">cm</tspan><tspan class="sup" dx="-1.5" dy="-32.6">-2</tspan></text>
<line x1="1576.4" y1="714.5" x2="1709.5" y2="714.5" stroke="#FF00FF" stroke-width="7.6" stroke-linecap="round"/>
<text class="tk" x="1726" y="734.4">60 mA<tspan dy="-5.2">·</tspan><tspan dy="5.2">cm</tspan><tspan class="sup" dx="-1.5" dy="-32.6">-2</tspan></text>
<line x1="1576.4" y1="800.9" x2="1709.5" y2="800.9" stroke="#FF5037" stroke-width="7.6" stroke-linecap="round"/>
<text class="tk" x="1726" y="820.8">70 mA<tspan dy="-5.2">·</tspan><tspan dy="5.2">cm</tspan><tspan class="sup" dx="-1.5" dy="-32.6">-2</tspan></text>
<line x1="1576.4" y1="887.3" x2="1709.5" y2="887.3" stroke="#990088" stroke-width="7.6" stroke-linecap="round"/>
<text class="tk" x="1726" y="907.2">80 mA<tspan dy="-5.2">·</tspan><tspan dy="5.2">cm</tspan><tspan class="sup" dx="-1.5" dy="-32.6">-2</tspan></text>
</svg>
</body>
</html>
